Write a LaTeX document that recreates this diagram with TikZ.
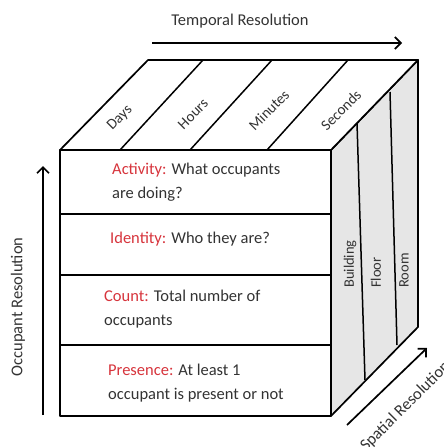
\documentclass[tikz,border=0pt]{standalone}
\usepackage{fontspec}
\setmainfont{Carlito}
\usetikzlibrary{arrows.meta}
\definecolor{lbl}{HTML}{D7343C}
\definecolor{ink}{HTML}{333333}
\definecolor{side}{HTML}{E6E6E6}

\begin{document}
\begin{tikzpicture}[x=1pt,y=-1pt,
  edge/.style={line width=1.7pt, line join=round},
  divider/.style={line width=1.5pt},
  axis/.style={line width=1.7pt, -{Straight Barb[length=6pt,width=12pt,line width=1.7pt]}},
  axislabel/.style={font=\fontsize{16.5}{18}\selectfont, text=ink, inner sep=0pt},
  rowtext/.style={font=\fontsize{16.5}{24}\selectfont, text=ink, align=left, anchor=north west, inner sep=0pt},
  timelabel/.style={font=\fontsize{15}{17}\selectfont, text=ink, rotate=45, inner sep=0pt},
  spacelabel/.style={font=\fontsize{14.5}{16}\selectfont, text=ink, rotate=90, anchor=west, inner sep=0pt},
]
\useasboundingbox (0,0) rectangle (444,447);

% cube corners
\coordinate (ftl) at (60,150);
\coordinate (ftr) at (331,150);
\coordinate (fbl) at (60,416);
\coordinate (fbr) at (331,416);
\coordinate (btl) at (148,60);
\coordinate (btr) at (418,60);
\coordinate (bbr) at (418,327);

% right face: spatial resolution
\draw[edge, fill=side] (ftr) -- (btr) -- (bbr) -- (fbr) -- cycle;
\coordinate (s1t) at (357,123); \coordinate (s1b) at (365,380);
\coordinate (s2t) at (390,92);  \coordinate (s2b) at (397,345);
\draw[divider] (s1t) -- (s1b);
\draw[divider] (s2t) -- (s2b);
\node[spacelabel] (building) at (350,288) {Building};
\node[spacelabel] (floor)    at (376,288) {Floor};
\node[spacelabel] (room)     at (404,288) {Room};

% top face: temporal resolution
\draw[edge, fill=white] (ftl) -- (btl) -- (btr) -- (ftr) -- cycle;
\coordinate (t1f) at (120,150); \coordinate (t1b) at (203,60);
\coordinate (t2f) at (190,150); \coordinate (t2b) at (272,60);
\coordinate (t3f) at (267,150); \coordinate (t3b) at (348,60);
\draw[divider] (t1f) -- (t1b);
\draw[divider] (t2f) -- (t2b);
\draw[divider] (t3f) -- (t3b);
\node[timelabel] (days)    at (120,118) {Days};
\node[timelabel] (hours)   at (193,114) {Hours};
\node[timelabel] (minutes) at (269,110) {Minutes};
\node[timelabel] (seconds) at (341,110) {Seconds};

% front face: occupant resolution levels
\draw[edge, fill=white] (ftl) rectangle (fbr);
\coordinate (r1l) at (60,214); \coordinate (r1r) at (331,214);
\coordinate (r2l) at (60,275); \coordinate (r2r) at (331,275);
\coordinate (r3l) at (60,345); \coordinate (r3r) at (331,345);
\draw[edge] (r1l) -- (r1r);
\draw[edge] (r2l) -- (r2r);
\draw[edge] (r3l) -- (r3r);

\node[rowtext] (activity) at (112,163) {\textcolor{lbl}{Activity:} What occupants\\are doing?};
\node[rowtext] (identity) at (110,232) {\textcolor{lbl}{Identity:} Who they are?};
\node[rowtext] (count)    at (104,290) {\textcolor{lbl}{Count:} Total number of\\occupants};
\node[rowtext] (presence) at (108,364) {\textcolor{lbl}{Presence:} At least 1\\occupant is present or not};

% axes
\node[axislabel] (tlabel) at (240,21) {Temporal Resolution};
\coordinate (ta) at (152,43); \coordinate (tb) at (402,43);
\draw[axis] (ta) -- (tb);

\node[axislabel, rotate=90] (olabel) at (18,307) {Occupant Resolution};
\coordinate (oa) at (43,415); \coordinate (ob) at (43,166);
\draw[axis] (oa) -- (ob);

\node[axislabel, rotate=45, anchor=west] (slabel) at (363,449) {Spatial Resolution};
\coordinate (sa) at (347,425); \coordinate (sb) at (427,348);
\draw[axis] (sa) -- (sb);
\end{tikzpicture}
\end{document}
